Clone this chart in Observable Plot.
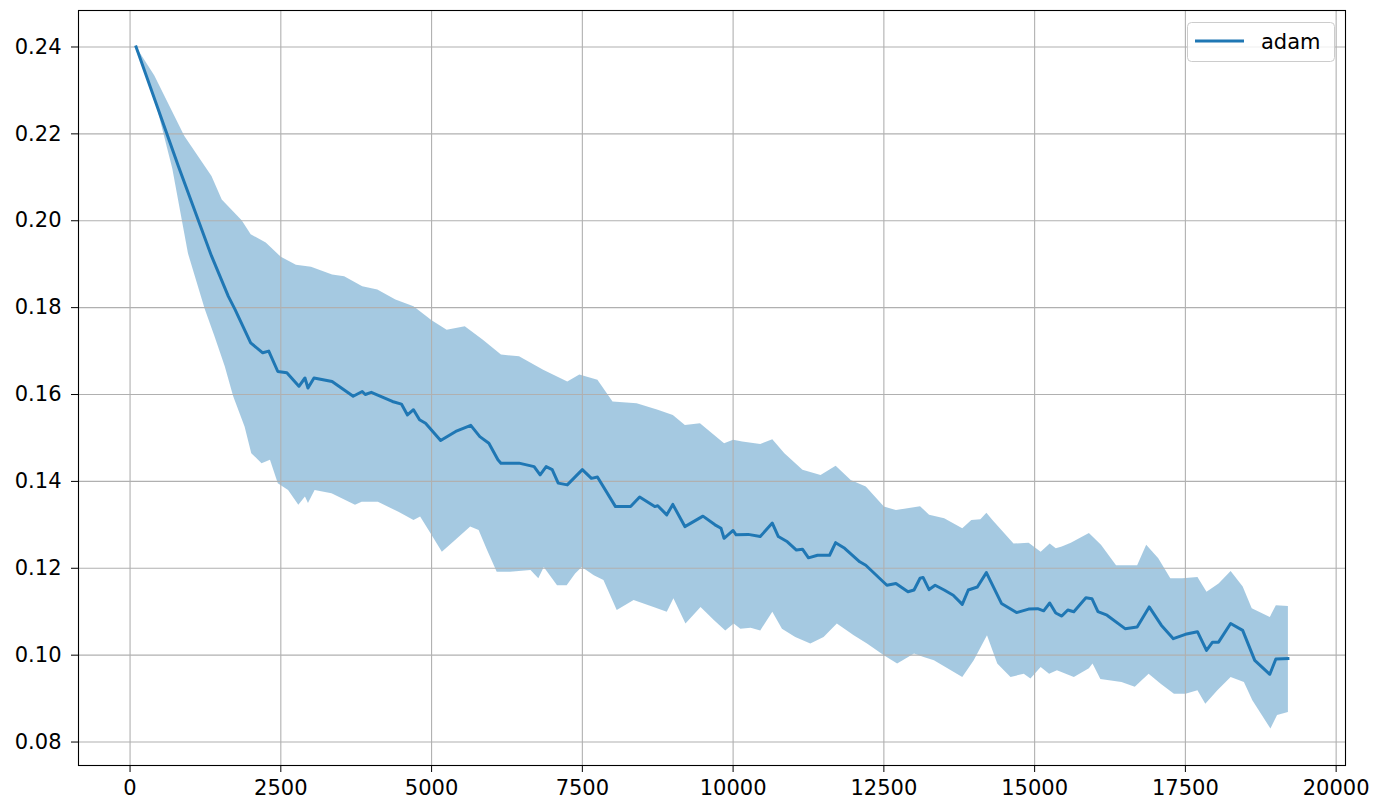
<!DOCTYPE html>
<html><head><meta charset="utf-8">
<script src="https://cdn.jsdelivr.net/npm/d3@7"></script>
<script src="https://cdn.jsdelivr.net/npm/@observablehq/plot@0.6"></script>
<style>
body{margin:0;background:#fff;font-family:"DejaVu Sans",sans-serif}
#wrap{position:relative;width:1373px;height:804px}
#legend{position:absolute;left:0;top:0;pointer-events:none}
</style></head><body><div id="wrap"></div>
<script>
const seriesName = "adam";
const xTicks = [0,2500,5000,7500,10000,12500,15000,17500,20000];
const yTicks = [0.08,0.10,0.12,0.14,0.16,0.18,0.20,0.22,0.24];

const meanSteps = [100,800,1350,1630,1740,2000,2200,2300,2450,2600,2800,2900,2950,3050,3350,3700,3850,3900,4000,4350,4500,4600,4700,4800,4900,5150,5400,5650,5800,5950,6100,6150,6450,6700,6800,6900,7000,7100,7250,7500,7650,7750,8050,8300,8450,8700,8750,8900,9000,9200,9500,9700,9800,9850,10000,10050,10250,10450,10650,10750,10900,11050,11150,11250,11400,11600,11700,11850,12100,12200,12550,12700,12900,13000,13100,13150,13250,13350,13500,13650,13800,13900,14050,14200,14450,14700,14900,15050,15150,15250,15350,15450,15550,15650,15850,15950,16050,16200,16500,16700,16900,17100,17300,17500,17700,17850,17950,18050,18250,18450,18650,18900,19000,19200];
const meanLoss = [0.2400,0.2126,0.1919,0.1826,0.1796,0.1719,0.1696,0.1700,0.1653,0.1650,0.1619,0.1638,0.1615,0.1638,0.1630,0.1596,0.1607,0.1600,0.1605,0.1584,0.1578,0.1553,0.1565,0.1542,0.1534,0.1494,0.1515,0.1529,0.1503,0.1488,0.1450,0.1442,0.1442,0.1434,0.1415,0.1434,0.1427,0.1396,0.1392,0.1427,0.1407,0.1410,0.1342,0.1342,0.1364,0.1342,0.1344,0.1323,0.1347,0.1296,0.1320,0.1300,0.1292,0.1269,0.1287,0.1277,0.1278,0.1273,0.1304,0.1273,0.1261,0.1242,0.1244,0.1224,0.1230,0.1230,0.1259,0.1246,0.1215,0.1207,0.1161,0.1165,0.1146,0.1150,0.1177,0.1179,0.1151,0.1161,0.1150,0.1138,0.1117,0.1150,0.1157,0.1190,0.1119,0.1098,0.1106,0.1107,0.1102,0.1120,0.1097,0.1090,0.1104,0.1100,0.1132,0.1130,0.1100,0.1092,0.1061,0.1065,0.1111,0.1069,0.1038,0.1048,0.1054,0.1011,0.1030,0.1030,0.1073,0.1057,0.0988,0.0956,0.0991,0.0992];

const upperSteps = [100,400,900,1350,1520,1850,2000,2250,2500,2750,3000,3350,3550,3850,4100,4400,4700,5000,5250,5550,5850,6150,6450,6850,7250,7450,7750,8000,8400,8750,9000,9200,9450,9850,10000,10150,10450,10650,10850,11150,11450,11700,11950,12200,12500,12700,13100,13250,13500,13800,13950,14100,14200,14300,14650,14900,15100,15250,15350,15450,15600,15900,16100,16350,16700,16850,17050,17250,17450,17700,17850,18050,18250,18450,18600,18900,19000,19200];
const upperLoss = [0.2400,0.2335,0.2195,0.2103,0.2049,0.2001,0.1969,0.1950,0.1917,0.1899,0.1894,0.1876,0.1872,0.1849,0.1842,0.1819,0.1803,0.1771,0.1749,0.1757,0.1726,0.1692,0.1688,0.1657,0.1630,0.1646,0.1634,0.1584,0.1580,0.1565,0.1553,0.1530,0.1534,0.1488,0.1496,0.1492,0.1486,0.1497,0.1465,0.1427,0.1415,0.1436,0.1403,0.1388,0.1342,0.1334,0.1343,0.1323,0.1315,0.1292,0.1311,0.1313,0.1328,0.1311,0.1257,0.1259,0.1238,0.1257,0.1246,0.1250,0.1259,0.1281,0.1254,0.1207,0.1207,0.1254,0.1223,0.1177,0.1177,0.1180,0.1146,0.1165,0.1194,0.1158,0.1108,0.1088,0.1115,0.1113];

const lowerSteps = [100,450,700,960,1240,1400,1570,1710,1900,2010,2180,2320,2450,2620,2790,2900,2950,3060,3340,3730,3840,4110,4450,4700,4810,4980,5170,5390,5640,5780,5920,6080,6300,6640,6770,6860,7080,7240,7380,7490,7690,7850,8070,8350,8680,8900,9010,9210,9460,9680,9870,10010,10120,10290,10450,10650,10810,11030,11280,11500,11720,12000,12220,12500,12720,13000,13160,13330,13660,13800,13990,14210,14380,14600,14820,14930,15100,15240,15370,15650,15900,15960,16090,16440,16660,16890,17090,17310,17500,17700,17830,18030,18250,18470,18610,18910,19020,19200];
const lowerLoss = [0.2400,0.2257,0.2120,0.1925,0.1796,0.1734,0.1665,0.1596,0.1526,0.1465,0.1442,0.1450,0.1396,0.1380,0.1346,0.1365,0.1350,0.1380,0.1373,0.1346,0.1353,0.1353,0.1330,0.1311,0.1319,0.1281,0.1238,0.1265,0.1296,0.1288,0.1242,0.1192,0.1192,0.1196,0.1177,0.1203,0.1161,0.1161,0.1188,0.1203,0.1184,0.1173,0.1104,0.1127,0.1111,0.1100,0.1131,0.1073,0.1111,0.1081,0.1057,0.1073,0.1061,0.1063,0.1057,0.1100,0.1061,0.1042,0.1027,0.1042,0.1073,0.1046,0.1027,0.1000,0.0981,0.1004,0.0996,0.0988,0.0961,0.0950,0.0988,0.1046,0.0981,0.0950,0.0957,0.0946,0.0973,0.0957,0.0965,0.0950,0.0970,0.0981,0.0945,0.0938,0.0927,0.0957,0.0934,0.0911,0.0911,0.0919,0.0888,0.0919,0.0950,0.0938,0.0896,0.0831,0.0862,0.0869];

const mean = meanSteps.map((s, i) => ({step: s, loss: meanLoss[i]}));
const band = [
  ...upperSteps.map((s, i) => ({step: s, loss: upperLoss[i]})),
  ...lowerSteps.map((s, i) => ({step: s, loss: lowerLoss[i]})).reverse()
];

const W = 1373, H = 804;
const chart = Plot.plot({
  width: W, height: H,
  marginLeft: 78, marginRight: 28, marginTop: 10, marginBottom: 39,
  style: {fontFamily: "'DejaVu Sans', sans-serif", fontSize: "21px", color: "#000", background: "#fff"},
  x: {domain: [-855, 20155], ticks: xTicks, tickFormat: d => String(d), tickSize: 7, tickPadding: 8, label: null},
  y: {domain: [0.0746, 0.2484], ticks: yTicks, tickFormat: d => d.toFixed(2), tickSize: 7, tickPadding: 10, label: null},
  marks: [
    Plot.line(band, {x: "step", y: "loss", fill: "#1f77b4", fillOpacity: 0.4, stroke: "none"}),
    Plot.gridX(xTicks, {stroke: "#b0b0b0", strokeOpacity: 1, strokeWidth: 1.1}),
    Plot.gridY(yTicks, {stroke: "#b0b0b0", strokeOpacity: 1, strokeWidth: 1.1}),
    Plot.line(mean, {x: "step", y: "loss", stroke: "#1f77b4", strokeWidth: 3, strokeLinejoin: "round", strokeLinecap: "square"}),
    Plot.frame({stroke: "#000", strokeWidth: 1.1})
  ]
});
const wrap = document.getElementById("wrap");
wrap.appendChild(chart);

// legend (matplotlib-style box in the upper right)
const ns = "http://www.w3.org/2000/svg";
const lg = document.createElementNS(ns, "svg");
lg.setAttribute("id", "legend");
lg.setAttribute("width", W); lg.setAttribute("height", 80);
lg.innerHTML = `
  <rect x="1187.5" y="22.5" width="147" height="39" rx="4" ry="4" fill="rgba(255,255,255,0.8)" stroke="#cccccc" stroke-width="1"/>
  <line x1="1195" y1="41" x2="1244" y2="41" stroke="#1f77b4" stroke-width="3"/>
  <text x="1261" y="48.5" font-family="'DejaVu Sans', sans-serif" font-size="21" fill="#000">${seriesName}</text>`;
wrap.appendChild(lg);
</script></body></html>
